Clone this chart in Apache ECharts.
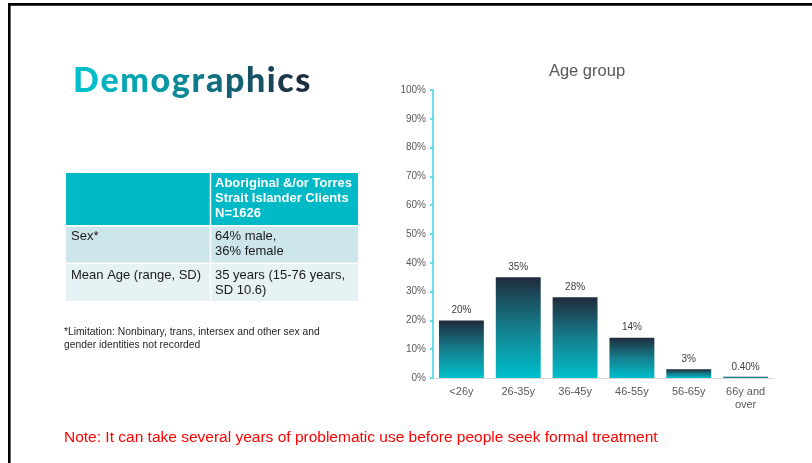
<!DOCTYPE html>
<html>
<head>
<meta charset="utf-8">
<script src="https://cdn.jsdelivr.net/npm/echarts@6/dist/echarts.min.js"></script>
<style>
html,body{margin:0;padding:0;background:#fff;}
#main{width:812px;height:463px;}
</style>
</head>
<body>
<div id="main"></div>
<script>
var categories = ['<26y', '26-35y', '36-45y', '46-55y', '56-65y', '66y and\nover'];
var values = [20, 35, 28, 14, 3, 0.4];
var valueLabels = ['20%', '35%', '28%', '14%', '3%', '0.40%'];
var yTicks = [0, 10, 20, 30, 40, 50, 60, 70, 80, 90, 100];

var pageTitle = 'Demographics';
var chartTitle = 'Age group';
var tableHeader = ['Aboriginal &/or Torres', 'Strait Islander Clients', 'N=1626'];
var tableRowLabels = ['Sex*', 'Mean Age (range, SD)'];
var tableRowValues = [['64% male,', '36% female'], ['35 years (15-76 years,', 'SD 10.6)']];
var footnote = ['*Limitation: Nonbinary, trans, intersex and other sex and', 'gender identities not recorded'];
var note = 'Note: It can take several years of problematic use before people seek formal treatment';

var chart = echarts.init(document.getElementById('main'), null, {renderer: 'canvas'});

// gradient letters for page title
function lerp(a, b, t) { return Math.round(a + (b - a) * t); }
var c0 = [0, 191, 203], c1 = [30, 43, 61];
var rich = {}, richText = '';
for (var i = 0; i < pageTitle.length; i++) {
  var t = i / (pageTitle.length - 1);
  var col = 'rgb(' + lerp(c0[0], c1[0], t) + ',' + lerp(c0[1], c1[1], t) + ',' + lerp(c0[2], c1[2], t) + ')';
  rich['c' + i] = {fill: col, fontSize: 34, fontWeight: 900, fontFamily: 'Lato', padding: [0, i < pageTitle.length - 1 ? 1.6 : 0, 0, 0]};
  richText += '{c' + i + '|' + pageTitle[i] + '}';
}

var tf = 'Liberation Sans, Arial, sans-serif';
var graphics = [
  {type: 'rect', shape: {x: 8, y: 3, width: 804, height: 2.8}, style: {fill: '#000'}, silent: true},
  {type: 'rect', shape: {x: 8, y: 3, width: 2.6, height: 460}, style: {fill: '#000'}, silent: true},
  {type: 'text', x: 73, y: 81, style: {text: richText, rich: rich, verticalAlign: 'middle', textAlign: 'left'}},
  {type: 'text', x: 587, y: 71, style: {text: chartTitle, fill: '#595959', font: '16.5px ' + tf, textAlign: 'center', verticalAlign: 'middle'}},
  // table
  {type: 'rect', shape: {x: 66, y: 173, width: 292, height: 52}, style: {fill: '#00b9c6'}},
  {type: 'rect', shape: {x: 66, y: 226.5, width: 292, height: 36}, style: {fill: '#cde6eb'}},
  {type: 'rect', shape: {x: 66, y: 264, width: 292, height: 37}, style: {fill: '#e6f2f4'}},
  {type: 'line', shape: {x1: 210.5, y1: 173, x2: 210.5, y2: 301}, style: {stroke: '#fff', lineWidth: 1.5}},
  {type: 'text', x: 215, y: 176, style: {text: tableHeader.join('\n'), fill: '#fff', font: 'bold 13px ' + tf, lineHeight: 15, verticalAlign: 'top'}},
  {type: 'text', x: 71, y: 236, style: {text: tableRowLabels[0], fill: '#1a1a1a', font: '13px ' + tf, verticalAlign: 'middle'}},
  {type: 'text', x: 215, y: 228.5, style: {text: tableRowValues[0].join('\n'), fill: '#1a1a1a', font: '13px ' + tf, lineHeight: 15.5, verticalAlign: 'top'}},
  {type: 'text', x: 71, y: 275, style: {text: tableRowLabels[1], fill: '#1a1a1a', font: '13px ' + tf, verticalAlign: 'middle'}},
  {type: 'text', x: 215, y: 267.5, style: {text: tableRowValues[1].join('\n'), fill: '#1a1a1a', font: '13px ' + tf, lineHeight: 15, verticalAlign: 'top'}},
  {type: 'text', x: 64, y: 326.25, style: {text: footnote.join('\n'), fill: '#262626', font: '10.3px ' + tf, lineHeight: 12.5, verticalAlign: 'top'}},
  {type: 'text', x: 64, y: 438, style: {text: note, fill: '#ff0000', font: '15.5px ' + tf, verticalAlign: 'middle'}}
];

var option = {
  animation: false,
  backgroundColor: '#fff',
  grid: {left: 433, right: 38, top: 90, bottom: 85, containLabel: false},
  xAxis: {
    type: 'category',
    data: categories,
    axisLine: {show: true, lineStyle: {color: '#d9d9d9', width: 1}},
    axisTick: {show: false},
    axisLabel: {color: '#595959', fontSize: 11, fontFamily: tf, margin: 8, lineHeight: 12.5, interval: 0}
  },
  yAxis: {
    type: 'value',
    min: yTicks[0],
    max: yTicks[yTicks.length - 1],
    interval: yTicks[1] - yTicks[0],
    axisLine: {show: true, lineStyle: {color: '#3dd3e3', width: 1.5}},
    axisTick: {show: true, inside: false, length: 3, lineStyle: {color: '#3dd3e3', width: 1.5}},
    splitLine: {show: false},
    axisLabel: {color: '#595959', fontSize: 10, fontFamily: tf, margin: 7, formatter: '{value}%'}
  },
  series: [{
    type: 'bar',
    data: values,
    barCategoryGap: '21%',
    itemStyle: {
      color: new echarts.graphic.LinearGradient(0, 0, 0, 1, [
        {offset: 0, color: '#1f2b3d'},
        {offset: 0.5, color: '#157e8c'},
        {offset: 1, color: '#00bfcb'}
      ])
    },
    label: {
      show: true,
      position: 'top',
      distance: 5,
      color: '#404040',
      fontSize: 10,
      fontFamily: tf,
      formatter: function (p) { return valueLabels[p.dataIndex]; }
    }
  }],
  graphic: graphics
};
chart.setOption(option);
</script>
</body>
</html>
